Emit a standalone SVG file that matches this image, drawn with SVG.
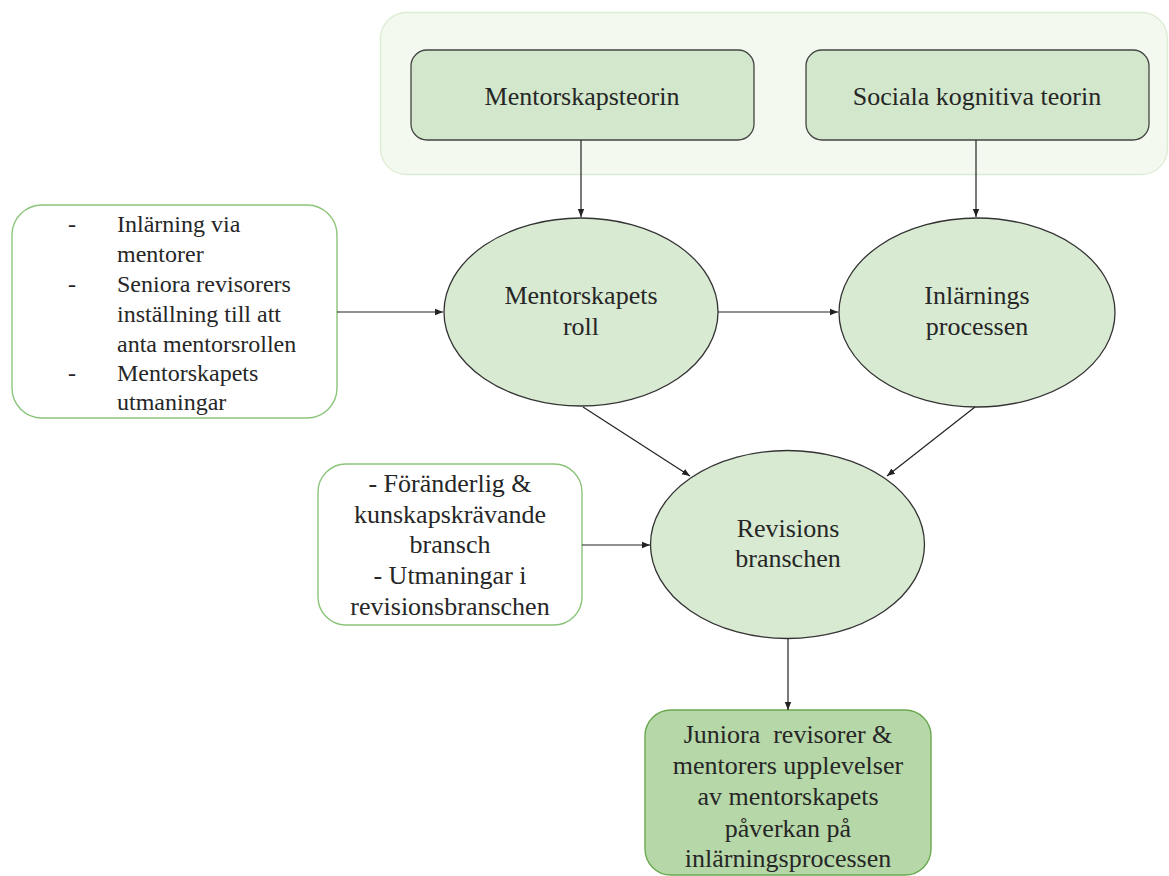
<svg xmlns="http://www.w3.org/2000/svg" width="1169" height="876" viewBox="0 0 1169 876">
<style>
text{font-family:"Liberation Serif","Times New Roman",serif;fill:#262626;}
.t26{font-size:26px;text-anchor:middle;}
.t24{font-size:24px;}
.ell{fill:#d9ead3;stroke:#333;stroke-width:1.3;}
.theory{fill:#d2e7cb;stroke:#444;stroke-width:1.3;}
.note{fill:#fff;stroke:#8bc47a;stroke-width:1.4;}
.conn line{stroke:#222;stroke-width:1.2;marker-end:url(#arr);}
</style>
<defs>
<marker id="arr" markerUnits="userSpaceOnUse" markerWidth="9" markerHeight="8" refX="8" refY="4" orient="auto">
<path d="M0,0.8 L8,4 L0,7.2 z" fill="#222"/>
</marker>
</defs>
<rect width="1169" height="876" fill="#fff"/>
<g id="theories-group">
<rect x="380.5" y="12.5" width="787" height="162" rx="26" fill="#f3f9ee" stroke="#dcecd4" stroke-width="1.3"/>
</g>
<g id="mentorskapsteorin">
<rect class="theory" x="411" y="50" width="343" height="90" rx="16"/>
<text class="t26" x="582" y="105">Mentorskapsteorin</text>
</g>
<g id="sociala-kognitiva-teorin">
<rect class="theory" x="806" y="50" width="343" height="90" rx="16"/>
<text class="t26" x="977" y="105">Sociala kognitiva teorin</text>
</g>
<g id="mentorskap-notes">
<rect class="note" x="12" y="205" width="325" height="213" rx="30"/>
<g class="t24">
<text x="68" y="232">-</text>
<text x="117" y="232">Inlärning via</text>
<text x="117" y="262">mentorer</text>
<text x="68" y="292">-</text>
<text x="117" y="292">Seniora revisorers</text>
<text x="117" y="322">inställning till att</text>
<text x="117" y="352">anta mentorsrollen</text>
<text x="68" y="381">-</text>
<text x="117" y="381">Mentorskapets</text>
<text x="117" y="410">utmaningar</text>
</g>
</g>
<g id="mentorskapets-roll">
<ellipse class="ell" cx="581" cy="312" rx="137" ry="94"/>
<text class="t26" x="581" y="304">Mentorskapets</text>
<text class="t26" x="581" y="335">roll</text>
</g>
<g id="inlarnings-processen">
<ellipse class="ell" cx="977" cy="312.5" rx="138" ry="94.5"/>
<text class="t26" x="977" y="304">Inlärnings</text>
<text class="t26" x="977" y="335">processen</text>
</g>
<g id="bransch-notes">
<rect class="note" x="318" y="464" width="264" height="161" rx="28"/>
<text class="t26" x="450" y="492">- Föränderlig &amp;</text>
<text class="t26" x="450" y="523">kunskapskrävande</text>
<text class="t26" x="450" y="553">bransch</text>
<text class="t26" x="450" y="584">- Utmaningar i</text>
<text class="t26" x="450" y="615">revisionsbranschen</text>
</g>
<g id="revisions-branschen">
<ellipse class="ell" cx="787.5" cy="544.5" rx="137" ry="94"/>
<text class="t26" x="788" y="537">Revisions</text>
<text class="t26" x="788" y="567">branschen</text>
</g>
<g id="upplevelser">
<rect x="645" y="710" width="286" height="165" rx="26" fill="#b6d7a8" stroke="#6aa84f" stroke-width="1.4"/>
<text class="t26" x="788" y="743" xml:space="preserve">Juniora  revisorer &amp;</text>
<text class="t26" x="788" y="774">mentorers upplevelser</text>
<text class="t26" x="788" y="805">av mentorskapets</text>
<text class="t26" x="788" y="837">påverkan på</text>
<text class="t26" x="788" y="867">inlärningsprocessen</text>
</g>
<g id="connectors" class="conn">
<line x1="581" y1="140" x2="581" y2="217"/>
<line x1="976" y1="140" x2="976" y2="217"/>
<line x1="337" y1="312" x2="443" y2="312"/>
<line x1="718" y1="312" x2="838" y2="312"/>
<line x1="583" y1="407" x2="690" y2="476"/>
<line x1="975" y1="407" x2="887" y2="476"/>
<line x1="582" y1="545" x2="650" y2="545"/>
<line x1="788" y1="639" x2="788" y2="710"/>
</g>
</svg>
